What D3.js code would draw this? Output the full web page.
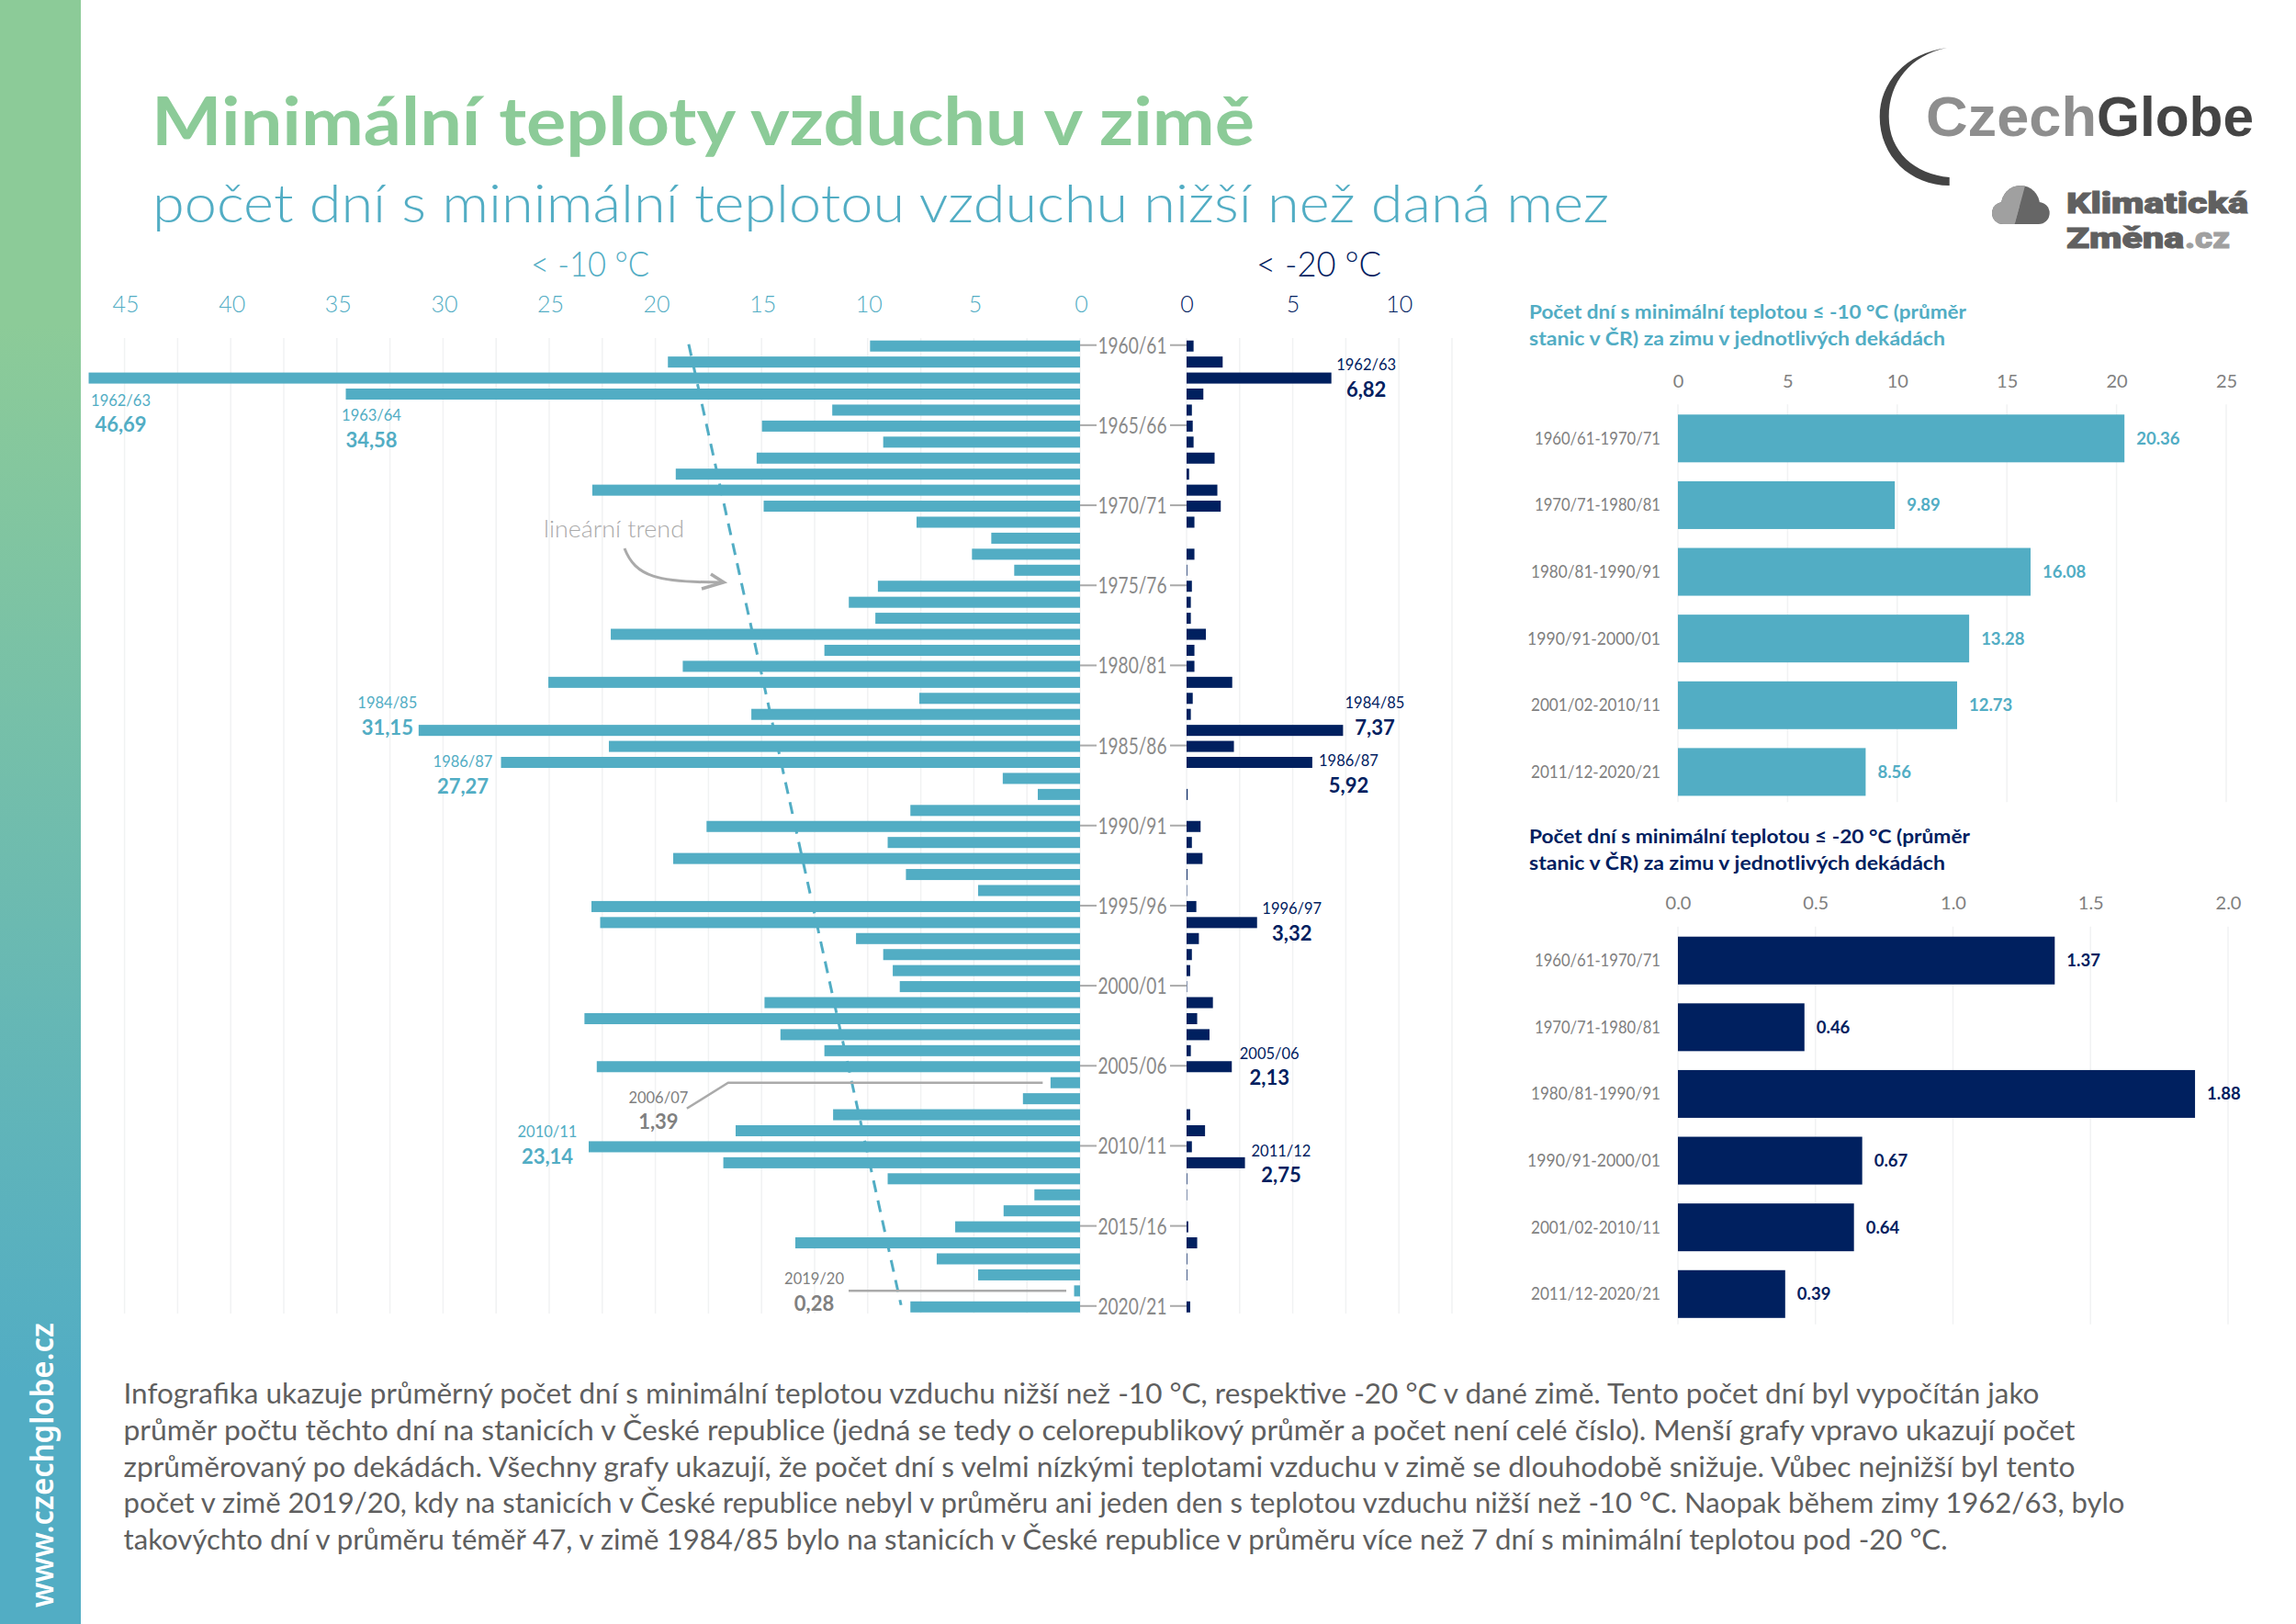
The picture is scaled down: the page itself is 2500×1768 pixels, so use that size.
<!DOCTYPE html>
<html lang="cs">
<head>
<meta charset="utf-8">
<title>Minimální teploty vzduchu v zimě</title>
<script src="https://cdn.jsdelivr.net/npm/d3@7"></script>
<style>
	html, body {margin: 0; padding: 0; background: #fff;}
	svg {display: block;}
	text {font-family: Lato, "Noto Sans", sans-serif;}
</style>
</head>
<body>
<svg id="chart" width="2500" height="1768"></svg>
<script>
var winters = ["1960/61","1961/62","1962/63","1963/64","1964/65","1965/66","1966/67","1967/68","1968/69","1969/70",
	"1970/71","1971/72","1972/73","1973/74","1974/75","1975/76","1976/77","1977/78","1978/79","1979/80",
	"1980/81","1981/82","1982/83","1983/84","1984/85","1985/86","1986/87","1987/88","1988/89","1989/90",
	"1990/91","1991/92","1992/93","1993/94","1994/95","1995/96","1996/97","1997/98","1998/99","1999/00",
	"2000/01","2001/02","2002/03","2003/04","2004/05","2005/06","2006/07","2007/08","2008/09","2009/10",
	"2010/11","2011/12","2012/13","2013/14","2014/15","2015/16","2016/17","2017/18","2018/19","2019/20",
	"2020/21"];
var below10 = [9.89,19.41,46.69,34.58,11.67,14.98,9.27,15.23,19.04,22.97,
	14.9,7.7,4.18,5.09,3.1,9.52,10.89,9.64,22.1,12.04,
	18.71,25.04,7.57,15.48,31.15,22.19,27.27,3.64,1.99,7.99,
	17.59,9.06,19.16,8.2,4.8,23.01,22.6,10.55,9.27,8.82,
	8.49,14.86,23.34,14.11,12.04,22.76,1.39,2.69,11.63,16.22,
	23.14,16.8,9.06,2.15,3.6,5.88,13.41,6.75,4.8,0.28,
	7.99];
var below20 = [0.33,1.7,6.82,0.79,0.25,0.29,0.33,1.32,0.12,1.45,
	1.61,0.37,0,0.37,0.03,0.25,0.2,0.2,0.91,0.37,
	0.37,2.15,0.29,0.2,7.37,2.23,5.92,0,0.05,0,
	0.66,0.25,0.75,0.04,0.02,0.46,3.32,0.58,0.25,0.17,
	0.02,1.24,0.5,1.08,0.2,2.13,0,0,0.17,0.87,
	0.25,2.75,0.03,0.02,0,0.08,0.5,0.03,0.03,0,
	0.17];
var trendEnds = [18.43, 8.43];
var yearTicks = winters.filter(function(d, i) {return i % 5 == 0;});

var decades = ["1960/61-1970/71","1970/71-1980/81","1980/81-1990/91","1990/91-2000/01","2001/02-2010/11","2011/12-2020/21"];
var decade10 = [20.36,9.89,16.08,13.28,12.73,8.56];
var decade20 = [1.37,0.46,1.88,0.67,0.64,0.39];

var bodyLines = [
	"Infografika ukazuje průměrný počet dní s minimální teplotou vzduchu nižší než -10 °C, respektive -20 °C v dané zimě. Tento počet dní byl vypočítán jako",
	"průměr počtu těchto dní na stanicích v České republice (jedná se tedy o celorepublikový průměr a počet není celé číslo). Menší grafy vpravo ukazují počet",
	"zprůměrovaný po dekádách. Všechny grafy ukazují, že počet dní s velmi nízkými teplotami vzduchu v zimě se dlouhodobě snižuje. Vůbec nejnižší byl tento",
	"počet v zimě 2019/20, kdy na stanicích v České republice nebyl v průměru ani jeden den s teplotou vzduchu nižší než -10 °C. Naopak během zimy 1962/63, bylo",
	"takovýchto dní v průměru téměř 47, v zimě 1984/85 bylo na stanicích v České republice v průměru více než 7 dní s minimální teplotou pod -20 °C."
];
var bodyWidths = [2086,2125,2125,2179,1986];
var decadeLabelWidths = [137,137,141,145,141,141];

var teal = "#52adc4", navy = "#00205f", green = "#8ccb98", grey = "#808080", gridCol = "#f1f2f3";

var svg = d3.select("#chart");

// text helper, the width argument squeezes the text to the width in the picture
function label(parent, x, y, str, size, colour, weight, anchor, width){
	var t = parent.append("text")
		.attr("x", x).attr("y", y)
		.attr("font-size", size)
		.attr("fill", colour)
		.attr("font-weight", weight || 400)
		.attr("text-anchor", anchor || "start")
		.text(str);
	if(width !== undefined)
		t.attr("textLength", width).attr("lengthAdjust", "spacingAndGlyphs");
	return t;
}

// side strip
var grad = svg.append("defs").append("linearGradient")
	.attr("id", "strip").attr("x1", 0).attr("x2", 0).attr("y1", 0).attr("y2", 1);
grad.append("stop").attr("offset", "0.2").attr("stop-color", green);
grad.append("stop").attr("offset", "0.85").attr("stop-color", teal);
svg.append("rect").attr("width", 88).attr("height", 1768).attr("fill", "url(#strip)");
svg.append("text")
	.attr("transform", "translate(58,1750) rotate(-90)")
	.attr("font-size", 35)
	.attr("font-weight", 600)
	.attr("fill", "#fff")
	.style("font-family", "'Noto Sans'")
	.attr("textLength", 310).attr("lengthAdjust", "spacingAndGlyphs")
	.text("www.czechglobe.cz");

// headings
label(svg, 165, 158, "Minimální teploty vzduchu v zimě", 72, green, 700, "start", 1201);
label(svg, 166, 242, "počet dní s minimální teplotou vzduchu nižší než daná mez", 58, teal, 300, "start", 1586);
label(svg, 578, 301, "< -10 °C", 37, teal, 300, "start", 129);
label(svg, 1368, 301, "< -20 °C", 37, navy, 300, "start", 136);

// main mirrored chart
var yMain = d3.scaleBand().domain(winters).range([370.7, 1428.8]).paddingInner(0.31).paddingOuter(0);
var xLeft = d3.scaleLinear().domain([0, 45]).range([1176, 135.6]);
var xRight = d3.scaleLinear().domain([0, 12.5]).range([1292, 1581]);
var midY = function(w) {return yMain(w) + yMain.bandwidth() / 2;};

function gridLines(g, scale, values, y0, y1){
	g.selectAll("line.grid").data(values).enter().append("line")
		.attr("class", "grid")
		.attr("x1", scale).attr("x2", scale)
		.attr("y1", y0).attr("y2", y1)
		.attr("stroke", gridCol)
		.attr("stroke-width", 1.5);
}
function topAxis(y, scale, values, format, colour, size, weight){
	var g = svg.append("g")
		.attr("transform", "translate(0," + y + ")")
		.call(d3.axisTop(scale).tickValues(values).tickSize(0).tickPadding(0).tickFormat(format));
	g.select(".domain").remove();
	g.selectAll("text")
		.attr("fill", colour)
		.attr("font-size", size)
		.attr("font-weight", weight)
		.style("font-family", "Lato");
	return g;
}

var main = svg.append("g");
gridLines(main, xLeft, d3.range(0, 47.5, 2.5), 368, 1430);
gridLines(main.append("g"), xRight, d3.range(0, 15, 2.5), 368, 1430);

topAxis(340, xLeft, d3.range(0, 50, 5), d3.format("d"), teal, 25, 300)
	.selectAll("text").attr("x", 1);
topAxis(340, xRight, [0, 5, 10], d3.format("d"), navy, 25, 300);

// trend goes under the bars
main.append("line")
	.attr("x1", xLeft(trendEnds[0])).attr("y1", midY(winters[0]) - 2)
	.attr("x2", xLeft(trendEnds[1])).attr("y2", midY(winters[60]) - 2)
	.attr("stroke", teal)
	.attr("stroke-width", 3)
	.attr("stroke-dasharray", "13 9.2");

main.selectAll("rect.left").data(below10).enter().append("rect")
	.attr("class", "left")
	.attr("x", function(d) {return xLeft(d);})
	.attr("y", function(d, i) {return yMain(winters[i]);})
	.attr("width", function(d) {return xLeft(0) - xLeft(d);})
	.attr("height", yMain.bandwidth())
	.attr("fill", teal);
main.selectAll("rect.right").data(below20).enter().append("rect")
	.attr("class", "right")
	.attr("x", xRight(0))
	.attr("y", function(d, i) {return yMain(winters[i]);})
	.attr("width", function(d) {return xRight(d) - xRight(0);})
	.attr("height", yMain.bandwidth())
	.attr("fill", navy);

// year labels between the two halves
yearTicks.forEach(function(w){
	var y = midY(w) - 1;
	main.append("line").attr("x1", xLeft(0)).attr("x2", xLeft(0) + 18).attr("y1", y).attr("y2", y)
		.attr("stroke", "#aaa").attr("stroke-width", 2);
	main.append("line").attr("x1", xRight(0) - 18).attr("x2", xRight(0)).attr("y1", y).attr("y2", y)
		.attr("stroke", "#aaa").attr("stroke-width", 2);
	label(main, (xLeft(0) + xRight(0)) / 2 - 1, y + 9, w, 25, "#8a8a8a", 400, "middle", 75);
});

// callouts are placed relative to the end of their bar
function callout(scale, values, winter, dx, dyYear, dyValue, colour){
	var i = winters.indexOf(winter),
		x = scale(values[i]) + dx,
		y = midY(winter);
	label(main, x, y + dyYear, winter, 16.5, colour, 400, "middle");
	label(main, x, y + dyValue, values[i].toFixed(2).replace(".", ","), 22, colour, 700, "middle");
}
callout(xLeft, below10, "1962/63", 35, 30, 58.5, teal);
callout(xLeft, below10, "1963/64", 28, 29, 57.7, teal);
callout(xLeft, below10, "1984/85", -34, -24, 5, teal);
callout(xLeft, below10, "1986/87", -41.5, 5, 33.8, teal);
callout(xLeft, below10, "2010/11", -45, -10, 18.5, teal);
callout(xLeft, below10, "2006/07", -427, 22, 50, grey);
callout(xLeft, below10, "2019/20", -283, -7, 21.7, grey);
callout(xRight, below20, "1962/63", 38, -8.6, 20, navy);
callout(xRight, below20, "1984/85", 34.6, -24, 5, navy);
callout(xRight, below20, "1986/87", 39.6, 4, 33, navy);
callout(xRight, below20, "1996/97", 38, -9, 19.5, navy);
callout(xRight, below20, "2005/06", 41, -8.5, 19.5, navy);
callout(xRight, below20, "2011/12", 39.4, -7.3, 21, navy);

// leader lines for the two grey callouts
var leader = d3.line();
main.append("path")
	.attr("d", leader([[xLeft(1.39) - 396, midY("2006/07") + 28], [xLeft(1.39) - 351, midY("2006/07")], [xLeft(1.39) - 8.5, midY("2006/07")]]))
	.attr("fill", "none").attr("stroke", "#aaa").attr("stroke-width", 2.5);
main.append("path")
	.attr("d", leader([[xLeft(0.28) - 245.5, midY("2019/20")], [xLeft(0.28) - 8.5, midY("2019/20")]]))
	.attr("fill", "none").attr("stroke", "#aaa").attr("stroke-width", 2.5);

// trend note with hand drawn arrow
label(main, 592, 585, "lineární trend", 26, "#aaa", 300, "start", 153);
main.append("path")
	.attr("d", "M680,597C692,628 716,634 786,634")
	.attr("fill", "none").attr("stroke", "#aaa").attr("stroke-width", 3);
main.append("path")
	.attr("d", "M774,625L788,634L764,641")
	.attr("fill", "none").attr("stroke", "#aaa").attr("stroke-width", 3.5);

// decade panels
function decadePanel(cfg){
	var g = svg.append("g"),
		x = d3.scaleLinear().domain([0, cfg.max]).range([1827, cfg.right]),
		y = d3.scaleBand().domain(decades).range([cfg.top, cfg.top + 5 * 72.62 + 52]).paddingInner(20.6 / 72.62).paddingOuter(0);

	label(g, 1665, cfg.titleY, cfg.title[0], 21.5, cfg.colour, 700, "start", cfg.titleW[0]);
	label(g, 1665, cfg.titleY + 29, cfg.title[1], 21.5, cfg.colour, 700, "start", cfg.titleW[1]);

	gridLines(g, x, cfg.ticks, cfg.top - 11, cfg.top + 422);
	topAxis(cfg.top - 29.5, x, cfg.ticks, cfg.format, "#808080", 20, 400);

	g.selectAll("rect").data(cfg.values).enter().append("rect")
		.attr("x", x(0))
		.attr("y", function(d, i) {return y(decades[i]);})
		.attr("width", function(d) {return x(d) - x(0);})
		.attr("height", y.bandwidth())
		.attr("fill", cfg.colour);
	cfg.values.forEach(function(d, i){
		var mid = y(decades[i]) + y.bandwidth() / 2;
		label(g, x(d) + 13, mid + 6.5, d.toFixed(2), 18.5, cfg.colour, 700);
		label(g, 1808, mid + 6.5, decades[i], 20, grey, 400, "end", decadeLabelWidths[i]);
	});
}
decadePanel({
	title: ["Počet dní s minimální teplotou ≤ -10 °C (průměr", "stanic v ČR) za zimu v jednotlivých dekádách"],
	titleW: [476, 453],
	titleY: 346.5,
	top: 451.3,
	max: 25,
	right: 2424,
	ticks: d3.range(0, 30, 5),
	format: d3.format("d"),
	values: decade10,
	colour: teal
});
decadePanel({
	title: ["Počet dní s minimální teplotou ≤ -20 °C (průměr", "stanic v ČR) za zimu v jednotlivých dekádách"],
	titleW: [480, 453],
	titleY: 918,
	top: 1019.7,
	max: 2,
	right: 2426,
	ticks: d3.range(0, 2.5, 0.5),
	format: d3.format(".1f"),
	values: decade20,
	colour: navy
});

// explanatory text
bodyLines.forEach(function(line, i){
	label(svg, 134.5, 1528 + i * 39.8, line, 30, "#5f5f5f", 400, "start", bodyWidths[i]);
});

// logos
var logo = svg.append("g");
logo.append("path")
	.attr("d", "M2120,52C2075,58 2046.7,90 2046.7,127C2046.7,170 2080,202 2122.7,202L2122.7,193C2085,190 2056.7,165 2056.7,127C2056.7,90 2080,60 2120,52Z")
	.attr("fill", "#444");
label(logo, 2097, 148, "Czech", 62, "#8e8e8e", 700, "start", 186).style("font-family", "'Liberation Sans'");
label(logo, 2283, 148, "Globe", 62, "#444", 700, "start", 171).style("font-family", "'Liberation Sans'");

var cloud = logo.append("g");
var clip = svg.select("defs").append("clipPath").attr("id", "cloudLeft");
clip.append("path").attr("d", "M2160,195L2207,195L2192,250L2160,250Z");
function cloudShape(parent, colour){
	parent.append("circle").attr("cx", 2200).attr("cy", 223).attr("r", 21).attr("fill", colour);
	parent.append("circle").attr("cx", 2181).attr("cy", 232).attr("r", 12).attr("fill", colour);
	parent.append("circle").attr("cx", 2219.7).attr("cy", 232).attr("r", 12).attr("fill", colour);
	parent.append("rect").attr("x", 2181).attr("y", 225).attr("width", 39).attr("height", 19).attr("fill", colour);
}
cloudShape(cloud, "#666");
cloudShape(cloud.append("g").attr("clip-path", "url(#cloudLeft)"), "#a0a0a0");

// smaller font with a thin stroke, the box of 38px runs into the next line
function logoWord(x, y, str, colour, width){
	label(logo, x, y, str, 32, colour, 900, "start", width)
		.style("font-family", "Roboto")
		.attr("stroke", colour)
		.attr("stroke-width", 1);
}
logoWord(2250, 232, "Klimatická", "#606060", 198);
logoWord(2250, 270, "Změna", "#606060", 128);
logoWord(2379, 270, ".cz", "#a0a0a0", 49);
</script>
</body>
</html>
